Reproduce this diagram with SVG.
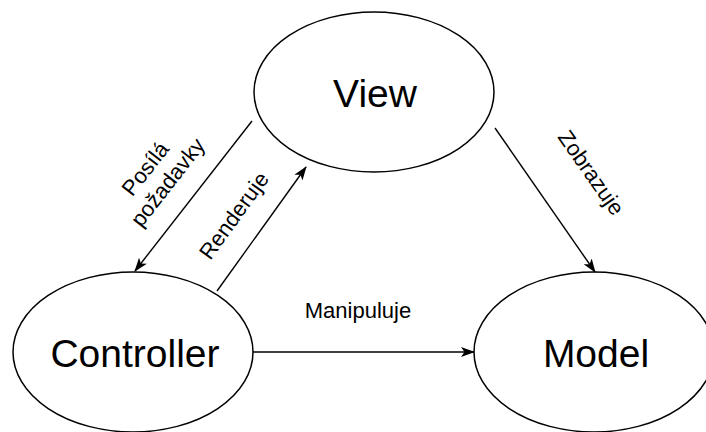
<svg xmlns="http://www.w3.org/2000/svg" width="706" height="432" viewBox="0 0 706 432">
  <style>
    .node { fill: #ffffff; stroke: #000000; stroke-width: 1.5; }
    .title { font-family: "Liberation Sans", Arial, sans-serif; font-size: 39px; fill: #000000; text-anchor: middle; }
    .edge { fill: none; stroke: #000000; stroke-width: 1.4; }
    .label { font-family: "Liberation Sans", Arial, sans-serif; font-size: 22px; fill: #000000; text-anchor: middle; }
  </style>
  <defs>
    <marker id="arrow" markerUnits="userSpaceOnUse" viewBox="0 0 14 10" refX="13" refY="5" markerWidth="14" markerHeight="10" orient="auto">
      <path d="M0,0 L14,5 L0,10 L3.5,5 z" fill="#000000"/>
    </marker>
  </defs>
  <rect width="706" height="432" fill="#ffffff"/>

  <g id="view">
    <ellipse class="node" cx="374" cy="92" rx="120" ry="80"/>
    <text class="title" x="375" y="107">View</text>
  </g>
  <g id="controller">
    <ellipse class="node" cx="133" cy="352" rx="120" ry="80"/>
    <text class="title" x="135" y="367">Controller</text>
  </g>
  <g id="model">
    <ellipse class="node" cx="594" cy="352" rx="120" ry="80"/>
    <text class="title" x="596" y="367">Model</text>
  </g>

  <g id="connectors">
    <!-- View -> Controller -->
    <line class="edge" x1="252" y1="121" x2="135" y2="271" marker-end="url(#arrow)"/>
    <text class="label" transform="translate(157,174) rotate(-52)">
      <tspan x="0" y="-5">Posílá</tspan>
      <tspan x="0" y="21">požadavky</tspan>
    </text>
    <!-- Controller -> View -->
    <line class="edge" x1="217" y1="291" x2="306" y2="167" marker-end="url(#arrow)"/>
    <text class="label" transform="translate(240,220) rotate(-54)">Renderuje</text>
    <!-- View -> Model -->
    <line class="edge" x1="495" y1="128" x2="595" y2="272" marker-end="url(#arrow)"/>
    <text class="label" transform="translate(585,177) rotate(55)">Zobrazuje</text>
    <!-- Controller -> Model -->
    <line class="edge" x1="253" y1="352" x2="474" y2="352" marker-end="url(#arrow)"/>
    <text class="label" x="358" y="318">Manipuluje</text>
  </g>
</svg>
